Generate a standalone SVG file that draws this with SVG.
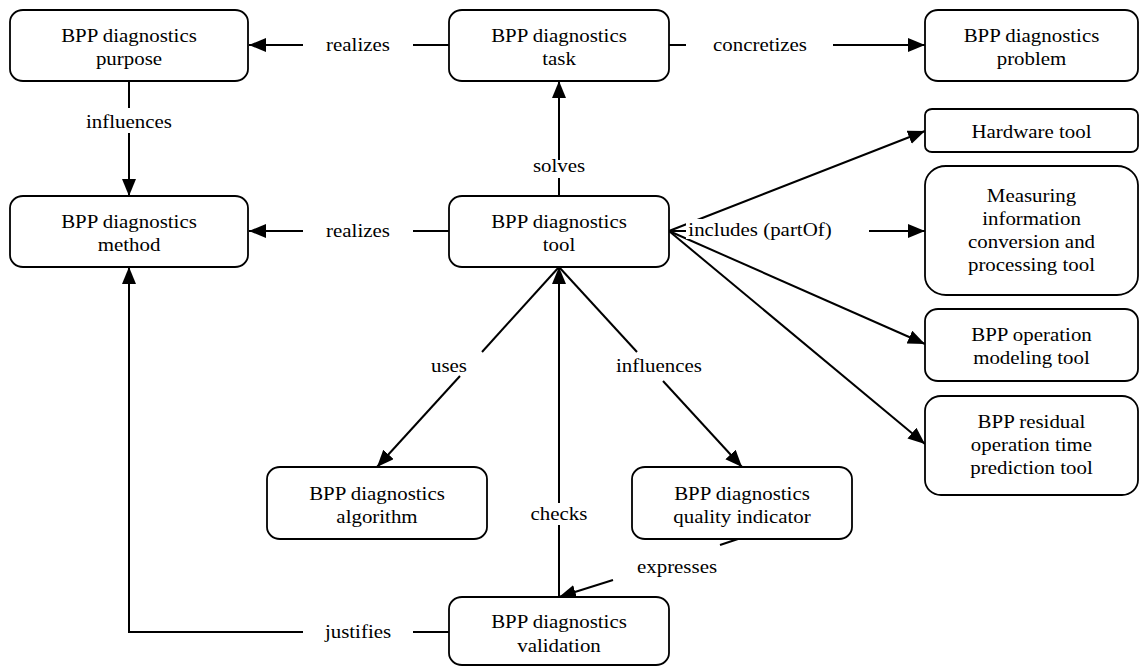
<svg xmlns="http://www.w3.org/2000/svg" width="1140" height="666" viewBox="0 0 1140 666">
<style>
.box{fill:#fff;stroke:#000;stroke-width:1.8}
.ln{fill:none;stroke:#000;stroke-width:2}
.arr{fill:none;stroke:#000;stroke-width:2;marker-end:url(#ah)}
text{font-family:"Liberation Serif","Times New Roman",serif;font-size:19px;fill:#000;text-anchor:middle}
</style>
<defs>
<marker id="ah" markerUnits="userSpaceOnUse" markerWidth="18" markerHeight="15" refX="17" refY="7" orient="auto">
<path d="M0,0 L17,7 L0,14 z" fill="#000"/>
</marker>
</defs>
<rect width="1140" height="666" fill="#fff"/>
<g id="connectors">
<path class="arr" d="M303,45 H249"/>
<path class="ln" d="M413,45 H449"/>
<path class="ln" d="M669,45 H686"/>
<path class="arr" d="M833,45 H925"/>
<path class="ln" d="M129,81 V108"/>
<path class="arr" d="M129,133 V196"/>
<path class="arr" d="M303,231 H249"/>
<path class="ln" d="M413,231 H449"/>
<path class="arr" d="M559,160 V81"/>
<path class="ln" d="M559,196 V178"/>
<path class="ln" d="M559,267 L482,352"/>
<path class="arr" d="M460,376 L377,467"/>
<path class="ln" d="M559,267 L637,352"/>
<path class="arr" d="M663,381 L742,467"/>
<path class="ln" d="M559,597 V525"/>
<path class="arr" d="M559,503 V267"/>
<path class="ln" d="M738,539 L720,545"/>
<path class="arr" d="M613,580 L559,597"/>
<path class="ln" d="M449,632 H413"/>
<path class="arr" d="M303,632 H129 V267"/>
<path class="arr" d="M669,231 L925,131"/>
<path class="arr" d="M669,231 L925,231"/>
<path class="arr" d="M669,231 L925,344"/>
<path class="arr" d="M669,231 L925,444"/>
<rect x="686" y="219" width="183" height="20" fill="#fff"/>
<text transform="translate(358,0) scale(1.1,1)" x="0" y="51">realizes</text>
<text transform="translate(760,0) scale(1.1,1)" x="0" y="51">concretizes</text>
<text transform="translate(129,0) scale(1.1,1)" x="0" y="128">influences</text>
<text transform="translate(358,0) scale(1.1,1)" x="0" y="237">realizes</text>
<text transform="translate(559,0) scale(1.1,1)" x="0" y="172">solves</text>
<text transform="translate(760,0) scale(1.1,1)" x="0" y="236">includes (partOf)</text>
<text transform="translate(449,0) scale(1.1,1)" x="0" y="372">uses</text>
<text transform="translate(659,0) scale(1.1,1)" x="0" y="372">influences</text>
<text transform="translate(559,0) scale(1.1,1)" x="0" y="520">checks</text>
<text transform="translate(677,0) scale(1.1,1)" x="0" y="573">expresses</text>
<text transform="translate(358,0) scale(1.1,1)" x="0" y="638">justifies</text>
</g>
<g id="purpose">
<rect class="box" x="10" y="10" width="238" height="71" rx="13" ry="12"/>
<text transform="translate(129,0) scale(1.1,1)"><tspan x="0" y="42">BPP diagnostics</tspan><tspan x="0" y="65">purpose</tspan></text>
</g>
<g id="task">
<rect class="box" x="449" y="10" width="220" height="71" rx="13" ry="12"/>
<text transform="translate(559,0) scale(1.1,1)"><tspan x="0" y="42">BPP diagnostics</tspan><tspan x="0" y="65">task</tspan></text>
</g>
<g id="problem">
<rect class="box" x="925" y="10" width="213" height="71" rx="13" ry="12"/>
<text transform="translate(1031.5,0) scale(1.1,1)"><tspan x="0" y="42">BPP diagnostics</tspan><tspan x="0" y="65">problem</tspan></text>
</g>
<g id="hardware">
<rect class="box" x="925" y="109" width="213" height="43" rx="7" ry="6"/>
<text transform="translate(1031.5,0) scale(1.1,1)" x="0" y="138">Hardware tool</text>
</g>
<g id="measuring">
<rect class="box" x="925" y="166" width="213" height="129" rx="21" ry="19"/>
<text transform="translate(1031.5,0) scale(1.1,1)"><tspan x="0" y="202">Measuring</tspan><tspan x="0" y="225">information</tspan><tspan x="0" y="248">conversion and</tspan><tspan x="0" y="271">processing tool</tspan></text>
</g>
<g id="operation">
<rect class="box" x="925" y="309" width="213" height="72" rx="13" ry="12"/>
<text transform="translate(1031.5,0) scale(1.1,1)"><tspan x="0" y="341">BPP operation</tspan><tspan x="0" y="364">modeling tool</tspan></text>
</g>
<g id="residual">
<rect class="box" x="925" y="396" width="213" height="99" rx="16" ry="15"/>
<text transform="translate(1031.5,0) scale(1.1,1)"><tspan x="0" y="428">BPP residual</tspan><tspan x="0" y="451">operation time</tspan><tspan x="0" y="474">prediction tool</tspan></text>
</g>
<g id="method">
<rect class="box" x="10" y="196" width="238" height="71" rx="13" ry="12"/>
<text transform="translate(129,0) scale(1.1,1)"><tspan x="0" y="228">BPP diagnostics</tspan><tspan x="0" y="251">method</tspan></text>
</g>
<g id="tool">
<rect class="box" x="449" y="196" width="220" height="71" rx="13" ry="12"/>
<text transform="translate(559,0) scale(1.1,1)"><tspan x="0" y="228">BPP diagnostics</tspan><tspan x="0" y="251">tool</tspan></text>
</g>
<g id="algorithm">
<rect class="box" x="267" y="467" width="220" height="72" rx="13" ry="12"/>
<text transform="translate(377,0) scale(1.1,1)"><tspan x="0" y="500">BPP diagnostics</tspan><tspan x="0" y="523">algorithm</tspan></text>
</g>
<g id="quality">
<rect class="box" x="632" y="467" width="220" height="72" rx="13" ry="12"/>
<text transform="translate(742,0) scale(1.1,1)"><tspan x="0" y="500">BPP diagnostics</tspan><tspan x="0" y="523">quality indicator</tspan></text>
</g>
<g id="validation">
<rect class="box" x="449" y="597" width="220" height="68" rx="13" ry="12"/>
<text transform="translate(559,0) scale(1.1,1)"><tspan x="0" y="628">BPP diagnostics</tspan><tspan x="0" y="652">validation</tspan></text>
</g>
</svg>
